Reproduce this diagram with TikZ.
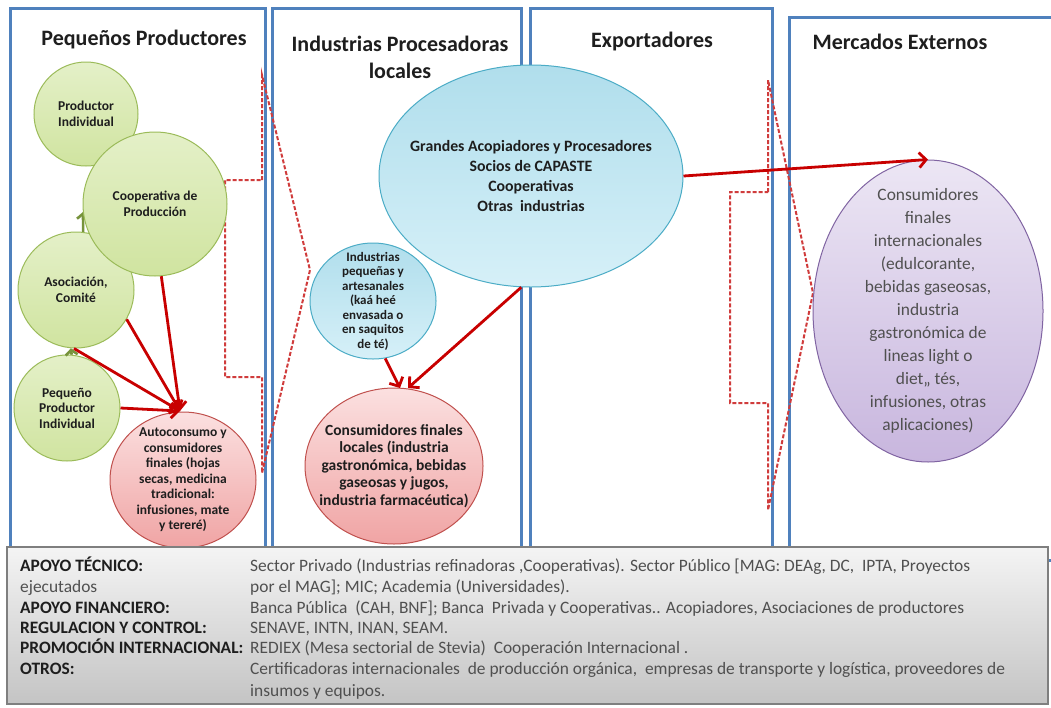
\documentclass[tikz,border=0pt]{standalone}
\usepackage{fontspec}
\setmainfont{Carlito}
\usetikzlibrary{arrows.meta,shapes.geometric}
\definecolor{panelblue}{HTML}{4F81BD}
\definecolor{arrred}{HTML}{C80000}
\definecolor{dashred}{HTML}{D03C3C}
\definecolor{gborder}{HTML}{9BBB59}
\definecolor{gtop}{HTML}{E4F0C8}
\definecolor{gbot}{HTML}{D0E4A0}
\definecolor{garrow}{HTML}{77933C}
\definecolor{bborder}{HTML}{4BACC6}
\definecolor{btop}{HTML}{B0DEEC}
\definecolor{bbot}{HTML}{D6F0F8}
\definecolor{rborder}{HTML}{C0504D}
\definecolor{rtop}{HTML}{FBE0E0}
\definecolor{rbot}{HTML}{F0A4A4}
\definecolor{pborder}{HTML}{8064A2}
\definecolor{ptop}{HTML}{ECE6F4}
\definecolor{pbot}{HTML}{C8B6DE}
\definecolor{boxtop}{HTML}{F4F4F4}
\definecolor{boxbot}{HTML}{C4C4C4}
\definecolor{boxborder}{HTML}{7F7F7F}
\definecolor{txtdark}{HTML}{1E1E1E}
\definecolor{txtgray}{HTML}{505050}
\tikzset{
  panel/.style={draw=panelblue, line width=3pt},
  title/.style={font=\bfseries\fontsize{22}{27}\selectfont, text=txtdark, align=center, inner sep=0pt},
  blob/.style={ellipse, inner sep=0pt, line width=1pt},
  gblob/.style={blob, draw=gborder, top color=gtop, bottom color=gbot},
  bblob/.style={blob, draw=bborder, top color=btop, bottom color=bbot},
  rblob/.style={blob, draw=rborder, top color=rtop, bottom color=rbot},
  pblob/.style={blob, draw=pborder, top color=ptop, bottom color=pbot},
  intext/.style={align=center, inner sep=0pt, text=txtdark},
  gtext/.style={intext, font=\bfseries\fontsize{13.5}{15.5}\selectfont},
  redarrow/.style={draw=arrred, line width=2.8pt, -{Straight Barb[length=7pt,width=15pt]}},
  greenarrow/.style={draw=garrow, line width=2.6pt, -{Straight Barb[length=5pt,width=12pt]}},
  blockarrow/.style={draw=dashred, line width=2pt, dash pattern=on 4pt off 2pt, line join=miter},
  lab/.style={anchor=base west, inner sep=0pt, text=txtdark, font=\bfseries\fontsize{17.4}{20}\selectfont},
  val/.style={anchor=base west, inner sep=0pt, text=txtgray, font=\fontsize{17.4}{20}\selectfont},
}
\begin{document}
\begin{tikzpicture}[x=1pt,y=-1pt]
\useasboundingbox (0,0) rectangle (1051,707);
\fill[white] (0,0) rectangle (1051,707);
% panels
\draw[panel] (10,8) rectangle (265,560);
\draw[panel] (272,8) rectangle (521,560);
\draw[panel] (530,8) rectangle (772,560);
\draw[panel] (789,17) rectangle (1060,560);
% titles
\node[title] (t1) at (144,40) {Pequeños Productores};
\node[title] (t2) at (400,57) {Industrias Procesadoras\\locales};
\node[title] (t3) at (652,42) {Exportadores};
\node[title] (t4) at (900,42) {Mercados Externos};
% dashed block arrows
\draw[blockarrow] (262,180) -- (262,75) -- (310,270) -- (262,473) -- (262,377) -- (225,377) -- (225,180) -- cycle;
\draw[blockarrow] (768,192) -- (768,80) -- (813,293) -- (768,510) -- (768,403) -- (730,403) -- (730,192) -- cycle;
% panel 1 nodes
\node[gblob, minimum width=104pt, minimum height=104pt, label={[gtext]center:Productor\\Individual}] (pi) at (86,114) {};
\node[gblob, minimum width=116pt, minimum height=116pt, label={[gtext]center:Asociación,\\Comité}] (asoc) at (76,290) {};
\node[gblob, minimum width=106pt, minimum height=106pt, label={[gtext]center:Pequeño\\Productor\\Individual}] (peq) at (67,408) {};
\draw[greenarrow] (asoc.83) -- (83,212) coordinate (ga);
\node[gblob, minimum width=144pt, minimum height=144pt, label={[gtext]center:Cooperativa de\\Producción}] (coop) at (155,204) {};
\draw[greenarrow] (peq.85) -- (asoc.-95);
\node[rblob, minimum width=146pt, minimum height=136pt,
  label={[intext, font=\bfseries\fontsize{13.5}{15.5}\selectfont]center:Autoconsumo y\\consumidores\\finales (hojas\\secas, medicina\\tradicional:\\infusiones, mate\\y tereré)}] (auto) at (183,480) {};
\coordinate (conv) at (180,411);
\draw[redarrow] (coop.-85) -- (conv);
\draw[redarrow] (asoc.-30) -- (conv);
\draw[redarrow] (asoc.-92) -- (conv);
\draw[redarrow] (peq.east) -- (conv);
% panel 2 and 3 nodes
\node[bblob, minimum width=304pt, minimum height=222pt,
  label={[intext, font=\bfseries\fontsize{15.8}{20}\selectfont]center:Grandes Acopiadores y Procesadores\\Socios de CAPASTE\\Cooperativas\\Otras\ \ industrias}] (big) at (531,176) {};
\node[bblob, minimum width=126pt, minimum height=116pt,
  label={[intext, font=\bfseries\fontsize{13}{14.5}\selectfont]center:Industrias\\pequeñas y\\artesanales\\(kaá heé\\envasada o\\en saquitos\\de té)}] (small) at (373,301) {};
\node[rblob, minimum width=178pt, minimum height=156pt,
  label={[intext, font=\bfseries\fontsize{15.5}{17.5}\selectfont]center:Consumidores finales\\locales (industria\\gastronómica, bebidas\\gaseosas y jugos,\\industria farmacéutica)}] (loc) at (394,466) {};
\coordinate (tipa) at (400,388);
\coordinate (tipb) at (408,388);
\draw[redarrow] (small.-78) -- (tipa);
\draw[redarrow] (big.-95) -- (tipb);
% panel 4
\node[pblob, minimum width=230pt, minimum height=302pt,
  label={[intext, text=txtgray, font=\fontsize{17.4}{23}\selectfont]center:Consumidores\\finales\\internacionales\\(edulcorante,\\bebidas gaseosas,\\industria\\gastronómica de\\lineas light o\\diet,, tés,\\infusiones, otras\\aplicaciones)}] (intl) at (928,311) {};
\draw[redarrow] (big.east) -- (intl.north);
% bottom box
\draw[draw=boxborder, line width=1.5pt, top color=boxtop, bottom color=boxbot] (7,547) rectangle (1048,704);
\node[lab] (l1) at (20,571) {APOYO TÉCNICO:};
\node[val] (l2) at (20,592) {ejecutados};
\node[lab] (l3) at (20,613) {APOYO FINANCIERO:};
\node[lab] (l4) at (20,633) {REGULACION Y CONTROL:};
\node[lab] (l5) at (20,653) {PROMOCIÓN INTERNACIONAL:};
\node[lab] (l6) at (20,674) {OTROS:};
\node[val] (v1) at (250,571) {Sector Privado (Industrias refinadoras ,Cooperativas). Sector Público [MAG: DEAg, DC,\ \ IPTA, Proyectos};
\node[val] (v2) at (250,592) {por el MAG]; MIC; Academia (Universidades).};
\node[val] (v3) at (250,613) {Banca Pública\ \ (CAH, BNF]; Banca\ \ Privada y Cooperativas.. Acopiadores, Asociaciones de productores};
\node[val] (v4) at (250,633) {SENAVE, INTN, INAN, SEAM.};
\node[val] (v5) at (250,653) {REDIEX (Mesa sectorial de Stevia)\ \ Cooperación Internacional .};
\node[val] (v6) at (250,674) {Certificadoras internacionales\ \ de producción orgánica,\ \ empresas de transporte y logística, proveedores de};
\node[val] (v7) at (250,696) {insumos y equipos.};
\end{tikzpicture}
\end{document}
